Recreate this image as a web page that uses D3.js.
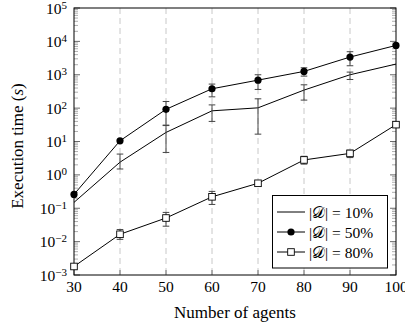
<!DOCTYPE html>
<html lang="en">
<head>
    <meta charset="UTF-8">
    <title>Execution time</title>
    <script src="https://cdn.jsdelivr.net/npm/d3@7"></script>
    <style>
        body { margin: 0; background: #fff; }
        text { font-family: "Liberation Serif", "DejaVu Serif", serif; }
    </style>
</head>
<body>
<div id="chart"></div>
<script>
    // agents on the x axis
    var agents = [30, 40, 50, 60, 70, 80, 90, 100];

    // |D| = 10%  (no marker)
    var t10 = [0.15, 2.4, 18.7, 83, 102, 347, 1000, 2090];
    var t10Lo = [null, 1.5, 4.7, 40, 16.6, 174, 720, null];
    var t10Hi = [null, 4.2, 31, 125, 190, 500, 1200, null];

    // |D| = 50%  (filled circles)
    var t50 = [0.26, 10.5, 92, 380, 690, 1260, 3390, 7560];
    var t50Lo = [null, null, 30, 218, 363, 910, 1860, null];
    var t50Hi = [null, null, 158, 525, 1000, 1620, 4900, null];

    // |D| = 80%  (open squares)
    var t80 = [0.0018, 0.0166, 0.051, 0.22, 0.56, 2.8, 4.4, 32];
    var t80Lo = [null, 0.0117, 0.029, 0.13, null, 2.1, 3.3, null];
    var t80Hi = [null, 0.023, 0.075, 0.32, null, 3.6, 5.5, null];

    var yExp = [-3, -2, -1, 0, 1, 2, 3, 4, 5];
    var legendLabels = ["10%", "50%", "80%"];

    var W = 405, H = 326, FS = 15.5;
    var svg = d3.select("#chart").append("svg")
        .attr("width", W)
        .attr("height", H);

    var x = d3.scaleLinear().domain([30, 100]).range([74, 396]);
    var y = d3.scaleLog().domain([1e-3, 1e5]).range([275, 8]);

    // grid
    svg.append("g").selectAll("line")
        .data(agents.slice(1, -1))
        .enter().append("line")
        .attr("x1", d => x(d)).attr("x2", d => x(d))
        .attr("y1", y(1e5)).attr("y2", y(1e-3))
        .attr("stroke", "#c8c8c8")
        .attr("stroke-dasharray", "6,4");

    // minor ticks left and right
    var minor = [];
    yExp.slice(0, -1).forEach(function (e) {
        for (var k = 2; k <= 9; k++) minor.push(k * Math.pow(10, e));
    });
    var ticks = svg.append("g");
    [x(30), x(100)].forEach(function (x0, side) {
        var dir = side === 0 ? 1 : -1;
        ticks.selectAll(null).data(minor).enter().append("line")
            .attr("x1", x0).attr("x2", x0 + dir * 4)
            .attr("y1", d => y(d)).attr("y2", d => y(d))
            .attr("stroke", "#777").attr("stroke-width", 0.6);
        ticks.selectAll(null).data(yExp).enter().append("line")
            .attr("x1", x0).attr("x2", x0 + dir * 6)
            .attr("y1", d => y(Math.pow(10, d))).attr("y2", d => y(Math.pow(10, d)))
            .attr("stroke", "#444").attr("stroke-width", 0.8);
    });
    ticks.selectAll(null).data(agents).enter().append("line")
        .attr("x1", d => x(d)).attr("x2", d => x(d))
        .attr("y1", y(1e-3)).attr("y2", y(1e-3) - 5)
        .attr("stroke", "#555").attr("stroke-width", 0.8);

    // frame
    svg.append("rect")
        .attr("x", x(30)).attr("y", y(1e5))
        .attr("width", x(100) - x(30)).attr("height", y(1e-3) - y(1e5))
        .attr("fill", "none").attr("stroke", "black").attr("stroke-width", 1);

    // tick labels
    svg.append("g").selectAll("text")
        .data(agents).enter().append("text")
        .attr("x", d => x(d)).attr("y", y(1e-3) + 16.5)
        .attr("text-anchor", "middle")
        .attr("font-size", FS)
        .text(d => d);

    var yl = svg.append("g").selectAll("text")
        .data(yExp).enter().append("text")
        .attr("x", 67).attr("y", d => y(Math.pow(10, d)) + 5.5)
        .attr("text-anchor", "end")
        .attr("font-size", FS);
    yl.append("tspan").text("10");
    yl.append("tspan").attr("dy", -5).attr("font-size", 11)
        .text(d => d < 0 ? "\u2212" + (-d) : d);

    // axis titles
    svg.append("text")
        .attr("x", x(65)).attr("y", 318)
        .attr("text-anchor", "middle").attr("font-size", 17)
        .text("Number of agents");
    var yt = svg.append("text")
        .attr("transform", "translate(23,146) rotate(-90)")
        .attr("text-anchor", "middle").attr("font-size", 17);
    yt.append("tspan").text("Execution time (");
    yt.append("tspan").attr("font-style", "italic").text("s");
    yt.append("tspan").text(")");

    // series
    var line = d3.line().x((d, i) => x(agents[i])).y(d => y(d));
    var series = [
        {v: t10, lo: t10Lo, hi: t10Hi},
        {v: t50, lo: t50Lo, hi: t50Hi},
        {v: t80, lo: t80Lo, hi: t80Hi}
    ];

    series.forEach(function (s, si) {
        var g = svg.append("g");
        g.append("path")
            .attr("d", line(s.v))
            .attr("fill", "none").attr("stroke", "black").attr("stroke-width", 1);
        agents.forEach(function (a, i) {
            if (s.lo[i] == null) return;
            var xx = x(a);
            g.append("line").attr("x1", xx).attr("x2", xx)
                .attr("y1", y(s.lo[i])).attr("y2", y(s.hi[i]))
                .attr("stroke", "#444").attr("stroke-width", 1);
            [s.lo[i], s.hi[i]].forEach(function (v) {
                g.append("line").attr("x1", xx - 3.3).attr("x2", xx + 3.3)
                    .attr("y1", y(v)).attr("y2", y(v))
                    .attr("stroke", "#444").attr("stroke-width", 1);
            });
        });
        if (si === 1) {
            g.selectAll("circle").data(s.v).enter().append("circle")
                .attr("cx", (d, i) => x(agents[i])).attr("cy", d => y(d))
                .attr("r", 3.6).attr("fill", "black");
        }
        if (si === 2) {
            g.selectAll("rect").data(s.v).enter().append("rect")
                .attr("x", (d, i) => x(agents[i]) - 3.3).attr("y", d => y(d) - 3.3)
                .attr("width", 6.6).attr("height", 6.6)
                .attr("fill", "white").attr("stroke", "black").attr("stroke-width", 0.9);
        }
    });

    // legend
    var lg = svg.append("g");
    lg.append("rect")
        .attr("x", 272.5).attr("y", 195.5).attr("width", 115).attr("height", 72.5)
        .attr("fill", "white").attr("stroke", "black").attr("stroke-width", 1);
    legendLabels.forEach(function (lab, i) {
        var ly = 212 + i * 20;
        lg.append("line").attr("x1", 277).attr("x2", 305)
            .attr("y1", ly).attr("y2", ly)
            .attr("stroke", "black").attr("stroke-width", 1);
        if (i === 1) lg.append("circle").attr("cx", 291).attr("cy", ly).attr("r", 3.6);
        if (i === 2) lg.append("rect").attr("x", 287.7).attr("y", ly - 3.3)
            .attr("width", 6.6).attr("height", 6.6)
            .attr("fill", "white").attr("stroke", "black").attr("stroke-width", 0.9);
        var t = lg.append("text").attr("x", 309).attr("y", ly + 5.5).attr("font-size", FS);
        t.append("tspan").text("|");
        t.append("tspan").text("\uD835\uDC9F");
        t.append("tspan").text("| = " + lab);
    });
</script>
</body>
</html>
